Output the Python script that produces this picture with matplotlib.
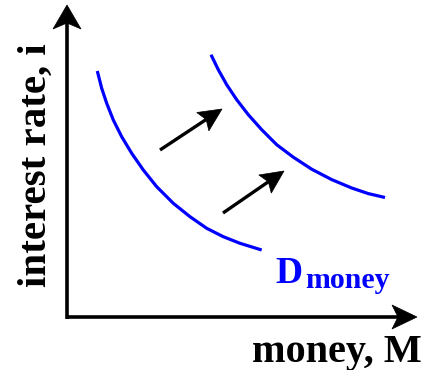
import numpy as np
import matplotlib
matplotlib.use("Agg")
import matplotlib.pyplot as plt
from matplotlib.patches import Polygon

# Money demand curves (money on x, interest rate on y), origin at the axes corner
demand_before_money = [30.3, 34.7, 39.7, 46.3, 54.7, 64.7, 76.3, 89.7, 106.3, 123, 139.7, 156.3, 173, 194.7]
demand_before_rate = [246, 228.7, 213.7, 197, 180.3, 163.7, 147, 130.3, 113.7, 100.3, 88.7, 80.3, 73.7, 67]

demand_after_money = [144, 151.3, 159.7, 169.7, 181.3, 194.7, 209.7, 226.3, 244.7, 264.7, 284.7, 301.3, 318]
demand_after_rate = [262.3, 247.3, 232.3, 217.3, 202.3, 187.3, 172.3, 159.8, 147.8, 137.4, 129, 123.4, 119.5]

# Shift arrows: (tail, tip)
shift_arrows = [((93, 167), (155, 208)), ((156, 104), (217, 146))]

# Axis extents
x_axis_end = 350
y_axis_end = 312

x_label = "money, M"
y_label = "interest rate, i"
curve_label_main = "D"
curve_label_sub = "money"

BLUE = "#0000FF"
SERIF = ["Liberation Serif", "DejaVu Serif"]

fig = plt.figure(figsize=(4.29, 3.70), dpi=100)
ax = fig.add_axes([0, 0, 1, 1])
ax.set_xlim(-67, 362)
ax.set_ylim(-53, 317)
ax.axis("off")


def stealth_arrow(ax, tail, tip, head_len, half_w, notch, lw, color="black"):
    tail = np.asarray(tail, float)
    tip = np.asarray(tip, float)
    d = tip - tail
    d /= np.hypot(*d)
    n = np.array([-d[1], d[0]])
    back = tip - d * head_len
    notch_pt = tip - d * (head_len - notch)
    ax.plot([tail[0], notch_pt[0]], [tail[1], notch_pt[1]], color=color,
            lw=lw, solid_capstyle="butt", zorder=3)
    head = Polygon([tip, back + n * half_w, notch_pt, back - n * half_w],
                   closed=True, facecolor=color, edgecolor=color, lw=0.5, zorder=4)
    ax.add_patch(head)


# Axes with arrowheads
stealth_arrow(ax, (0, -1.5), (0, y_axis_end), 24, 14, 6, 2.6)
stealth_arrow(ax, (-1.5, 0), (x_axis_end, 0), 25, 12, 6, 2.6)

# Demand curves
for xs, ys in [(demand_before_money, demand_before_rate),
               (demand_after_money, demand_after_rate)]:
    ax.plot(xs, ys, color=BLUE, lw=2.3, solid_capstyle="butt",
            solid_joinstyle="round", zorder=2)

# Shift arrows
for tail, tip in shift_arrows:
    stealth_arrow(ax, tail, tip, 23, 11, 4, 2.4)

# Labels
ax.text(355, -45, x_label, family=SERIF, fontweight="bold", fontsize=29,
        ha="right", va="baseline", color="black")
ax.text(-31, 152, y_label, family=SERIF, fontweight="bold", fontsize=29.5,
        rotation=90, ha="center", va="center", color="black")
ax.text(208, 34, curve_label_main, family=SERIF, fontweight="bold", fontsize=27,
        ha="left", va="baseline", color=BLUE)
ax.text(238, 29, curve_label_sub, family=SERIF, fontweight="bold", fontsize=21.5,
        ha="left", va="baseline", color=BLUE)

fig.savefig("out.png", dpi=100)
